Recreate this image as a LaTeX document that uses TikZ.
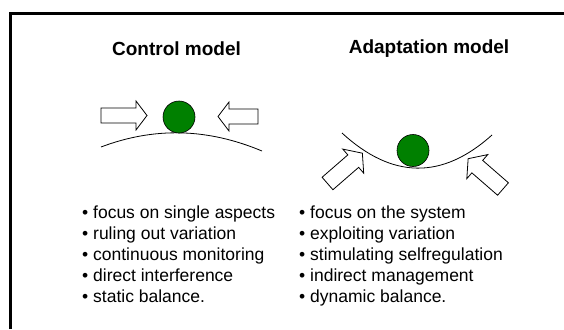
\documentclass[tikz,border=0pt]{standalone}
\usepackage{fontspec}
\setmainfont{Liberation Sans}
\usetikzlibrary{positioning}

\definecolor{ballgreen}{RGB}{0,128,0}

\tikzset{
    pushshape/.pic={
        \draw[fill=white, line width=0.8pt, line join=miter]
            (0,-7.5) -- (#1-11,-7.5) -- (#1-11,-14.5) -- (#1,0)
            -- (#1-11,14.5) -- (#1-11,7.5) -- (0,7.5) -- cycle;
    },
    ball/.style={circle, draw, fill=ballgreen, line width=0.6pt,
        minimum size=32pt, inner sep=0pt},
    heading/.style={font=\fontsize{19}{23}\selectfont\bfseries},
    item/.style={font=\fontsize{17.5}{21}\selectfont, anchor=base west, inner sep=0pt}
}

\begin{document}
\begin{tikzpicture}[x=1pt, y=-1pt]
    \useasboundingbox (0,0) rectangle (564,329);
    \fill[white] (0,0) rectangle (564,329);

    % frame, only the top and left side show
    \draw[line width=2.3pt] (10.5,329) -- (10.5,13.5) -- (564,13.5);

    \node (ctitle) [heading] at (176.5,49) {Control model};
    \node (atitle) [heading] at (429,49) {Adaptation model};

    % control model
    \draw[line width=0.8pt] (101,147) .. controls (154,127) and (207,128) .. (262,151);
    \node (cball) [ball] at (179,117) {};
    \pic at (101,115.5) {pushshape=46};
    \pic[rotate=180] at (258,116.5) {pushshape=40};

    % adaptation model
    \draw[line width=0.8pt] (342,133) .. controls (392,179) and (442,180) .. (492,135);
    \node (aball) [ball] at (413,150.5) {};
    \pic[rotate=41, scale=1.1] at (327.5,183.5) {pushshape=42};
    \pic[rotate=139, scale=1.1] at (503,189) {pushshape=42};

    \foreach \txt [count=\i] in {focus on single aspects, ruling out variation,
            continuous monitoring, direct interference, static balance.}
        \node (citem\i) [item] at (82,218+21*\i-21) {• \txt};

    \foreach \txt [count=\i] in {focus on the system, exploiting variation,
            stimulating selfregulation, indirect management, dynamic balance.}
        \node (aitem\i) [item] at (299,218+21*\i-21) {• \txt};
\end{tikzpicture}
\end{document}
